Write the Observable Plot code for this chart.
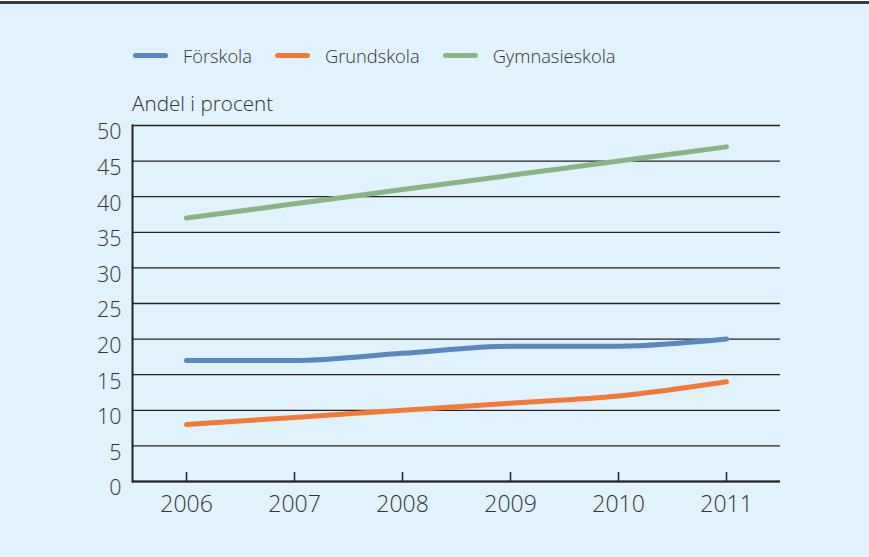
<!DOCTYPE html>
<html><head><meta charset="utf-8">
<script src="https://cdn.jsdelivr.net/npm/d3@7"></script>
<script src="https://cdn.jsdelivr.net/npm/@observablehq/plot@0.6"></script>
<style>
html,body{margin:0;padding:0;background:#fff;}
#wrap{width:869px;height:553px;margin-top:1px;border-top:3px solid #3a3a3a;background:#e0f2fc;position:relative;font-family:"Open Sans",sans-serif;color:#333;}
#legend{position:absolute;left:133px;top:39px;display:flex;align-items:center;font-size:18.3px;font-weight:300;}
.item{display:flex;align-items:center;margin-right:23px;}
.sw{width:35px;height:5px;border-radius:3px;margin-right:15px;}
#ytitle{position:absolute;left:132px;top:85px;font-size:20.7px;font-weight:300;}
#chart{position:absolute;left:0;top:108px;}
</style></head>
<body>
<div id="wrap">
  <div id="legend"></div>
  <div id="ytitle">Andel i procent</div>
  <div id="chart"></div>
</div>
<script>
const years = ["2006","2007","2008","2009","2010","2011"];
const series = ["Förskola","Grundskola","Gymnasieskola"];
const colors = ["#5b86bf","#f47936","#8ab485"];
const forskola = [17,17,18,19,19,20];
const grundskola = [8,9,10,11,12,14];
const gymnasieskola = [37,39,41,43,45,47];
const yTicks = [0,5,10,15,20,25,30,35,40,45,50];

const values = [forskola, grundskola, gymnasieskola];
const data = [];
series.forEach((s,i)=>years.forEach((y,j)=>data.push({serie:s, year:y, value:values[i][j]})));

const leg = document.getElementById("legend");
series.forEach((s,i)=>{
  const d = document.createElement("div"); d.className="item";
  d.innerHTML = `<div class="sw" style="background:${colors[i]}"></div><span>${s}</span>`;
  leg.appendChild(d);
});

const H = 557-4-108;
const plot = Plot.plot({
  width: 869, height: H,
  marginLeft: 132, marginRight: 89, marginTop: 13, marginBottom: 76,
  style: {background:"transparent", fontFamily:"'Open Sans',sans-serif", fontSize:"21px", color:"#333", fontWeight:300},
  x: {type:"point", domain: years, padding: 0.5, label: null},
  y: {domain:[0,50], ticks: yTicks, label: null},
  color: {domain: series, range: colors},
  marks: [
    Plot.gridY(yTicks, {stroke:"#222", strokeOpacity:1, strokeWidth:1.3}),
    Plot.axisY(yTicks, {tickSize:0, tickPadding:11, label:null, fontSize:21.5, dy:7}),
    Plot.axisX({tickSize:-9, tickPadding:23, label:null, fontSize:23, stroke:"#222", strokeWidth:1.5}),
    Plot.ruleY([0], {stroke:"#222", strokeWidth:2}),
    Plot.frame({anchor:"left", stroke:"#222", strokeWidth:2}),
    Plot.line(data, {x:"year", y:"value", stroke:"serie", z:"serie", strokeWidth:5, curve:"monotone-x", strokeLinecap:"round"})
  ]
});
document.getElementById("chart").appendChild(plot);
</script>
</body></html>
